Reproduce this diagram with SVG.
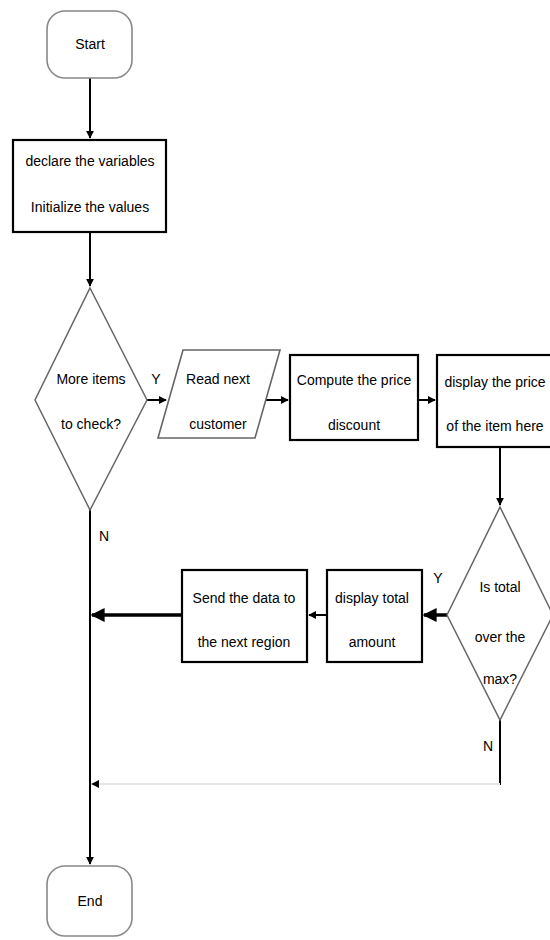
<svg xmlns="http://www.w3.org/2000/svg" width="550" height="940" viewBox="0 0 550 940">
<defs>
<style>
text{font-family:"Liberation Sans",Arial,sans-serif;font-size:14px;fill:#000;text-anchor:middle}
.term{fill:#fff;stroke:#888;stroke-width:1.6}
.proc{fill:#fff;stroke:#000;stroke-width:2.2}
.dec{fill:#fff;stroke:#666;stroke-width:1.5}
.io{fill:#fff;stroke:#666;stroke-width:1.6}
.c{fill:none;stroke:#000;stroke-width:2}
.thick{stroke-width:3.5}
.faint{fill:none;stroke:#e6e6e6;stroke-width:2}
.lbl{font-size:14px}
</style>
<marker id="ah" viewBox="0 0 10 10" refX="9" refY="5" markerWidth="4" markerHeight="4" orient="auto-start-reverse" markerUnits="strokeWidth">
<path d="M0,0 L10,5 L0,10 z" fill="#000"/>
</marker>
</defs>

<g id="connectors">
<path class="c" d="M90,78 V138" marker-end="url(#ah)"/>
<path class="c" d="M90,232 V286" marker-end="url(#ah)"/>
<path class="c" d="M147,400 H166" marker-end="url(#ah)"/>
<path class="c" d="M266,400 H288" marker-end="url(#ah)"/>
<path class="c" d="M418,400 H435" marker-end="url(#ah)"/>
<path class="c" d="M500,447 V505" marker-end="url(#ah)"/>
<path class="c thick" d="M447,615 H424" marker-end="url(#ah)"/>
<path class="c" d="M327,615 H309" marker-end="url(#ah)"/>
<path class="c thick" d="M182,615 H92" marker-end="url(#ah)"/>
<path class="c" d="M90,510 V864" marker-end="url(#ah)"/>
<path class="c" d="M500,720 V785"/>
<path class="faint" d="M500,784 H92" marker-end="url(#ah)"/>
<text class="lbl" x="156" y="384">Y</text>
<text class="lbl" x="104" y="541">N</text>
<text class="lbl" x="438" y="583">Y</text>
<text class="lbl" x="488" y="751">N</text>
</g>

<g id="start">
<rect class="term" x="47" y="11" width="85" height="67" rx="18"/>
<text x="90" y="49">Start</text>
</g>

<g id="declare">
<rect class="proc" x="13" y="140" width="153" height="92"/>
<text x="90" y="166">declare the variables</text>
<text x="90" y="212">Initialize the values</text>
</g>

<g id="more-items">
<polygon class="dec" points="90,288 147,400 90,510 35,400"/>
<text x="91" y="384">More items</text>
<text x="91" y="429">to check?</text>
</g>

<g id="read-customer">
<polygon class="io" points="183,350 280,350 255,438 158,438"/>
<text x="218" y="384">Read next</text>
<text x="218" y="429">customer</text>
</g>

<g id="compute">
<rect class="proc" x="290" y="355" width="128" height="85"/>
<text x="354" y="385">Compute the price</text>
<text x="354" y="430">discount</text>
</g>

<g id="display-price">
<rect class="proc" x="437" y="355" width="125" height="92"/>
<text x="495" y="387">display the price</text>
<text x="495" y="431">of the item here</text>
</g>

<g id="over-max">
<polygon class="dec" points="500,507 553,615 500,720 447,615"/>
<text x="500" y="592">Is total</text>
<text x="500" y="642">over the</text>
<text x="500" y="684">max?</text>
</g>

<g id="display-total">
<rect class="proc" x="327" y="570" width="95" height="92"/>
<text x="372" y="603">display total</text>
<text x="372" y="647">amount</text>
</g>

<g id="send-data">
<rect class="proc" x="182" y="570" width="125" height="92"/>
<text x="244" y="603">Send the data to</text>
<text x="244" y="647">the next region</text>
</g>

<g id="end">
<rect class="term" x="47" y="866" width="85" height="70" rx="18"/>
<text x="90" y="906">End</text>
</g>
</svg>
